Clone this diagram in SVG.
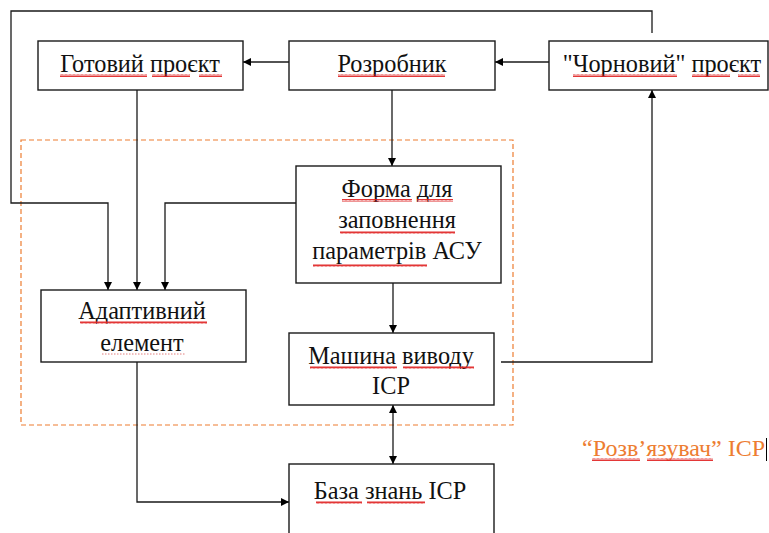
<svg xmlns="http://www.w3.org/2000/svg" width="769" height="533" viewBox="0 0 769 533">
<style>
.box{fill:#fff;stroke:#1a1a1a;stroke-width:1.4}
.t{font-family:"Liberation Serif","Times New Roman",serif;font-size:24.3px;fill:#111;text-anchor:middle}
.c{fill:none;stroke:#1a1a1a;stroke-width:1.3}
.sq{fill:url(#wavy)}
</style>
<defs>
<marker id="ah" viewBox="0 0 10 10" refX="10" refY="5" markerWidth="8" markerHeight="8" markerUnits="userSpaceOnUse" orient="auto-start-reverse">
<path d="M0,0 L10,5 L0,10 z" fill="#000"/>
</marker>
<pattern id="wavy" width="4" height="3" patternUnits="userSpaceOnUse">
<path d="M0,2.6 L1,0.4 L2,2.6 L3,0.4 L4,2.6" fill="none" stroke="#e02020" stroke-width="0.9"/>
</pattern>
</defs>
<rect width="769" height="533" fill="#fff"/>
<g id="group-solver">
<rect x="21" y="140" width="492" height="285" fill="none" stroke="#ED7D31" stroke-width="1.2" stroke-dasharray="5,3"/>
</g>
<g id="connectors">
<polyline class="c" points="652,33 652,11 11,11 11,203 108,203 108,290" marker-end="url(#ah)"/>
<line class="c" x1="137" y1="90" x2="137" y2="290" marker-end="url(#ah)"/>
<polyline class="c" points="296,203 165,203 165,290" marker-end="url(#ah)"/>
<line class="c" x1="289" y1="62" x2="243" y2="62" marker-end="url(#ah)"/>
<line class="c" x1="549" y1="62" x2="495" y2="62" marker-end="url(#ah)"/>
<line class="c" x1="392" y1="90" x2="392" y2="166" marker-end="url(#ah)"/>
<line class="c" x1="393" y1="283" x2="393" y2="333" marker-end="url(#ah)"/>
<polyline class="c" points="501,362 652,362 652,90" marker-end="url(#ah)"/>
<line class="c" x1="393" y1="405" x2="393" y2="464" marker-start="url(#ah)" marker-end="url(#ah)"/>
<polyline class="c" points="137,362 137,502 289,502" marker-end="url(#ah)"/>
</g>
<g id="node-gotovyi">
<rect class="box" x="38" y="41" width="205" height="49"/>
<text class="t" x="140" y="72">Готовий проєкт</text>
<rect class="sq" x="60" y="74" width="87" height="3"/>
<rect class="sq" x="152" y="74" width="38" height="3"/>
<rect class="sq" x="199" y="74" width="23" height="3"/>
</g>
<g id="node-rozrobnyk">
<rect class="box" x="289" y="41" width="206" height="49"/>
<text class="t" x="392" y="72">Розробник</text>
<rect class="sq" x="338" y="74" width="107" height="3"/>
</g>
<g id="node-chornovyi">
<rect class="box" x="549" y="41" width="219" height="49"/>
<text class="t" x="662" y="72">"Чорновий" проєкт</text>
<rect class="sq" x="573" y="74" width="104" height="3"/>
<rect class="sq" x="692" y="74" width="38" height="3"/>
<rect class="sq" x="738" y="74" width="22" height="3"/>
</g>
<g id="node-forma">
<rect class="box" x="296" y="166" width="205" height="117"/>
<text class="t" x="397" y="197">Форма для</text>
<text class="t" x="397" y="228">заповнення</text>
<text class="t" x="397" y="259">параметрів АСУ</text>
<rect class="sq" x="342" y="199" width="70" height="3"/>
<rect class="sq" x="417" y="199" width="36" height="3"/>
<rect class="sq" x="340" y="231" width="115" height="3"/>
<rect class="sq" x="313" y="264" width="114" height="3"/>
</g>
<g id="node-adaptive">
<rect class="box" x="41" y="290" width="205" height="72"/>
<text class="t" x="142" y="319">Адаптивний</text>
<text class="t" x="142" y="351">елемент</text>
<rect class="sq" x="80" y="321" width="127" height="3"/>
<line x1="102" y1="354" x2="185" y2="354" stroke="#e07070" stroke-width="0.9" stroke-dasharray="1.5,1.5"/>
</g>
<g id="node-mashyna">
<rect class="box" x="289" y="333" width="205" height="72"/>
<text class="t" x="391" y="364">Машина виводу</text>
<text class="t" x="391" y="394">ІСР</text>
<rect class="sq" x="310" y="366" width="87" height="3"/>
<rect class="sq" x="403" y="366" width="71" height="3"/>
</g>
<g id="node-baza">
<rect class="box" x="289" y="464" width="205" height="80"/>
<text class="t" x="390" y="499">База знань ІСР</text>
<rect class="sq" x="316" y="501" width="46" height="3"/>
<rect class="sq" x="367" y="501" width="58" height="3"/>
</g>
<g id="label-solver">
<text x="582" y="456" font-family="Liberation Serif,'Times New Roman',serif" font-size="24" fill="#ED7D31">“Розв’язувач” ІСР</text>
<rect class="sq" x="592" y="458" width="48" height="3"/>
<rect class="sq" x="647" y="458" width="66" height="3"/>
<line x1="766.5" y1="438" x2="766.5" y2="461" stroke="#000" stroke-width="1"/>
</g>
</svg>
